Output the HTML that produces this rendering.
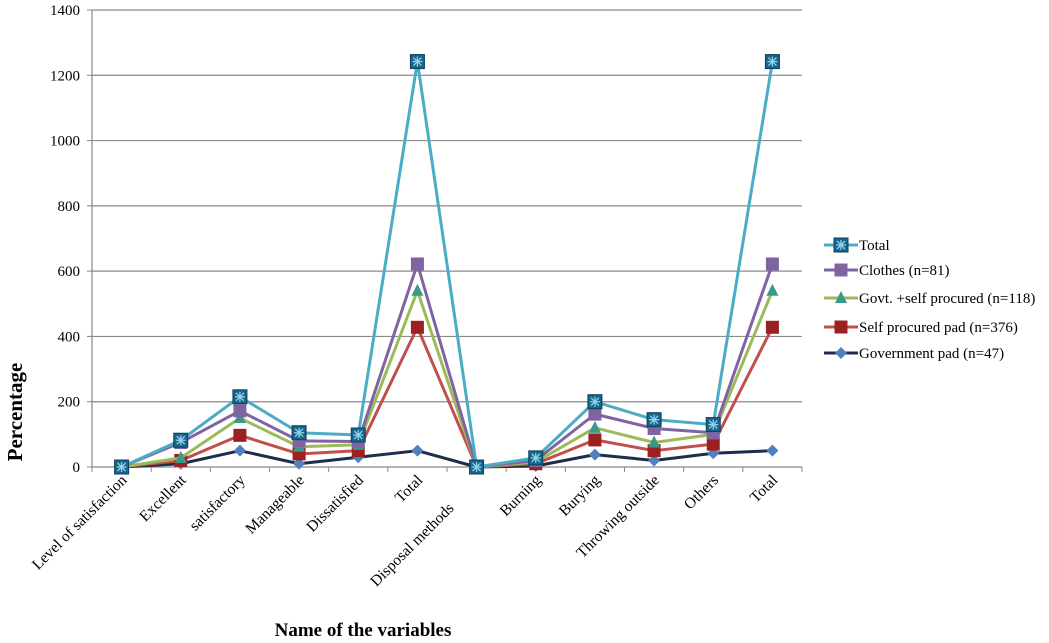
<!DOCTYPE html>
<html><head><meta charset="utf-8"><style>
html,body{margin:0;padding:0;background:#fff;}
svg{display:block;font-family:"Liberation Serif",serif;}
</style></head><body>
<svg id="chart" width="1049" height="643" viewBox="0 0 1049 643" xmlns="http://www.w3.org/2000/svg">
<g id="grid"></g><g id="axes"></g><g id="series"></g><g id="legend"></g>
<text transform="translate(22,412) rotate(-90)" font-size="21" font-weight="bold" text-anchor="middle">Percentage</text>
<text x="363" y="636" font-size="19" font-weight="bold" text-anchor="middle">Name of the variables</text>
</svg>
<script>
const categories=["Level of satisfaction","Excellent","satisfactory","Manageable","Dissatisfied","Total","Disposal methods","Burning","Burying","Throwing outside","Others","Total"];
const yTicks=[0,200,400,600,800,1000,1200,1400];
const seriesNames=["Total","Clothes (n=81)","Govt. +self procured (n=118)","Self procured pad (n=376)","Government pad (n=47)"];
const totalVals=[0,82,215,105,98,1242,0,28,200,145,130,1242];
const clothesVals=[0,75,172,80,78,622,0,20,162,118,105,622];
const govtSelfVals=[0,28,150,62,68,540,0,15,120,75,100,540];
const selfVals=[0,20,97,40,50,428,0,10,83,50,70,428];
const govtVals=[0,10,50,10,30,50,0,3,38,20,42,50];

const NS="http://www.w3.org/2000/svg";
const X0=92,X1=802,Y0=467,Y1=10,YMAX=1400;
const step=(X1-X0)/categories.length;
const xs=i=>X0+step*(i+0.5);
const ys=v=>Y0-(v/YMAX)*(Y0-Y1);
function mk(tag,attrs,parent){const e=document.createElementNS(NS,tag);for(const k in attrs)e.setAttribute(k,attrs[k]);parent.appendChild(e);return e;}
const grid=document.getElementById('grid'),axes=document.getElementById('axes'),ser=document.getElementById('series'),leg=document.getElementById('legend');
yTicks.forEach(t=>{
  if(t>0){const l=mk('line',{x1:X0,x2:X1,y1:ys(t),y2:ys(t),stroke:'#8a8a8a','stroke-width':1.2},grid);
  
  }
  mk('line',{x1:X0-5,x2:X0,y1:ys(t),y2:ys(t),stroke:'#888'},axes);
  const tx=mk('text',{x:X0-12,y:ys(t)+5,'font-size':15,'text-anchor':'end'},axes);tx.textContent=t;
  
  
});
mk('line',{x1:X0,x2:X0,y1:Y1,y2:Y0,stroke:'#888','stroke-width':1.2},axes);
mk('line',{x1:X0,x2:X1,y1:Y0,y2:Y0,stroke:'#888','stroke-width':1.2},axes);
for(let i=0;i<=categories.length;i++)mk('line',{x1:X0+step*i,x2:X0+step*i,y1:Y0,y2:Y0+5,stroke:'#888'},axes);
categories.forEach((c,i)=>{
  const off=(i===6)?28:0;
  const tx=mk('text',{transform:`translate(${xs(i)+6-off},${Y0+14+off}) rotate(-45)`,'font-size':15.5,'text-anchor':'end'},axes);
  tx.textContent=c;
  
  
});
const specs=[
 {vals:totalVals,color:'#4bacc6',marker:'xsq',mc:'#17658a'},
 {vals:clothesVals,color:'#8064a2',marker:'sq',mc:'#8064a2'},
 {vals:govtSelfVals,color:'#9bbb59',marker:'tri',mc:'#3a9a8a'},
 {vals:selfVals,color:'#c0504d',marker:'sq',mc:'#9b2020'},
 {vals:govtVals,color:'#1f2d4d',marker:'dia',mc:'#4f81bd'}];
function marker(s,x,y,g){
  if(s.marker==='xsq'){mk('rect',{x:x-7,y:y-7,width:14,height:14,fill:s.mc,stroke:'#0e3f5a'},g);
    mk('path',{d:`M${x-5} ${y}H${x+5}M${x} ${y-5}V${y+5}M${x-4} ${y-4}L${x+4} ${y+4}M${x+4} ${y-4}L${x-4} ${y+4}`,stroke:'#8fd3ea','stroke-width':1.3},g);}
  else if(s.marker==='sq')mk('rect',{x:x-6.5,y:y-6.5,width:13,height:13,fill:s.mc},g);
  else if(s.marker==='tri')mk('polygon',{points:`${x},${y-7} ${x+6},${y+5} ${x-6},${y+5}`,fill:s.mc},g);
  else mk('polygon',{points:`${x},${y-6} ${x+6},${y} ${x},${y+6} ${x-6},${y}`,fill:s.mc},g);
}
specs.slice().reverse().forEach((s,ri)=>{
  const idx=specs.length-1-ri;
  const g=mk('g',{},ser);
  
  
  const pts=s.vals.map((v,i)=>xs(i)+','+ys(v)).join(' ');
  mk('polyline',{points:pts,fill:'none',stroke:s.color,'stroke-width':3,'stroke-linejoin':'round'},g);
  s.vals.forEach((v,i)=>marker(s,xs(i),ys(v),g));
});
const legY=[245,270,298,327,353];
specs.forEach((s,i)=>{
  const g=mk('g',{},leg);
  
  
  mk('line',{x1:824,x2:858,y1:legY[i],y2:legY[i],stroke:s.color,'stroke-width':3},g);
  marker(s,841,legY[i],g);
  const t=mk('text',{x:859,y:legY[i]+5,'font-size':15},g);t.textContent=seriesNames[i];
});
</script>
</body></html>
